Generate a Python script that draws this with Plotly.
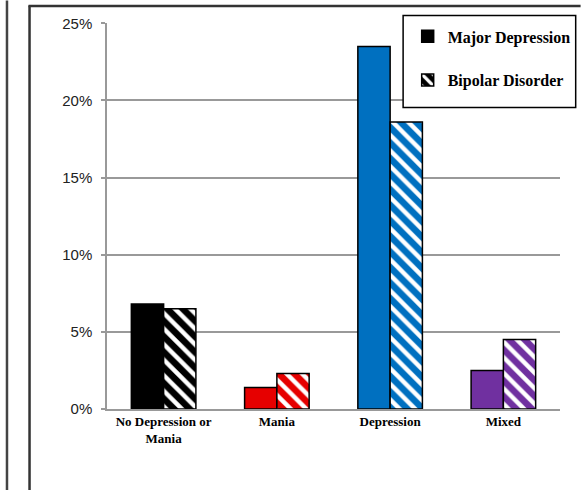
import plotly.graph_objects as go

categories = ["No Depression or<br>Mania", "Mania", "Depression", "Mixed"]
major_depression = [6.8, 1.4, 23.5, 2.5]
bipolar_disorder = [6.5, 2.3, 18.6, 4.5]
bar_colors = ["#000000", "#E60000", "#0070C0", "#7030A0"]
series_names = ["Major Depression", "Bipolar Disorder"]
y_ticks = [0, 5, 10, 15, 20, 25]

# plot area geometry (px)
W, H = 588, 490
L, R, T, B = 107, 569, 22.5, 409

def px_x(px):
    return (px - L) / (R - L)

def px_y(py):
    return (B - py) / (B - T)

fig = go.Figure()
fig.add_trace(go.Bar(
    x=categories, y=major_depression, name=series_names[0],
    marker=dict(color=bar_colors, line=dict(color="#000000", width=1.5)),
    legendgroup="a",
))
fig.add_trace(go.Bar(
    x=categories, y=bipolar_disorder, name=series_names[1],
    marker=dict(color=bar_colors, line=dict(color="#000000", width=1.5),
                pattern=dict(shape="\\", fillmode="overlay", bgcolor=bar_colors,
                             fgcolor="#FFFFFF", fgopacity=1, size=11, solidity=0.4)),
    legendgroup="b",
))

shapes = [
    # outer left line
    dict(type="line", xref="paper", yref="paper", x0=px_x(5), x1=px_x(5),
         y0=px_y(0), y1=px_y(H), line=dict(color="#444444", width=2.5)),
    # inner frame left
    dict(type="line", xref="paper", yref="paper", x0=px_x(28), x1=px_x(28),
         y0=px_y(5), y1=px_y(H), line=dict(color="#333333", width=2.5)),
    # inner frame top
    dict(type="line", xref="paper", yref="paper", x0=px_x(27), x1=px_x(W + 2),
         y0=px_y(5.5), y1=px_y(5.5), line=dict(color="#333333", width=2.5)),
    # legend box
    dict(type="rect", xref="paper", yref="paper", layer="above",
         x0=px_x(409), x1=px_x(585), y0=px_y(107), y1=px_y(15),
         fillcolor="white", line=dict(color="#000000", width=1.5)),
]

fig.update_layout(
    width=W, height=H,
    margin=dict(l=L, r=W - R, t=T, b=H - B),
    paper_bgcolor="white", plot_bgcolor="white",
    barmode="group", bargap=0.43, bargroupgap=0,
    showlegend=True,
    legend=dict(
        x=px_x(585), y=px_y(15), xanchor="right", yanchor="top",
        bgcolor="rgba(0,0,0,0)", borderwidth=0,
        font=dict(family="Liberation Serif", size=16, color="#000000", weight="bold"),
        tracegroupgap=20, traceorder="grouped",
        itemwidth=30,
        title=dict(text=" ", font=dict(size=3)),
    ),
    shapes=shapes,
    xaxis=dict(
        showline=True, linecolor="#999999", linewidth=1.5,
        ticks="", showgrid=False,
        tickfont=dict(family="Liberation Serif", size=13, color="#000000", weight="bold"),
    ),
    yaxis=dict(
        range=[0, 25.02], tickvals=y_ticks, ticktext=[f"{v}%" for v in y_ticks],
        showgrid=True, gridcolor="#999999", gridwidth=1.5,
        showline=True, linecolor="#999999", linewidth=1.5,
        ticks="outside", ticklen=4, tickcolor="#999999", tickwidth=1.5,
        tickfont=dict(family="Liberation Sans", size=15, color="#222222"),
        ticklabelstandoff=6, zeroline=False,
    ),
)

fig.write_html("out.html")
